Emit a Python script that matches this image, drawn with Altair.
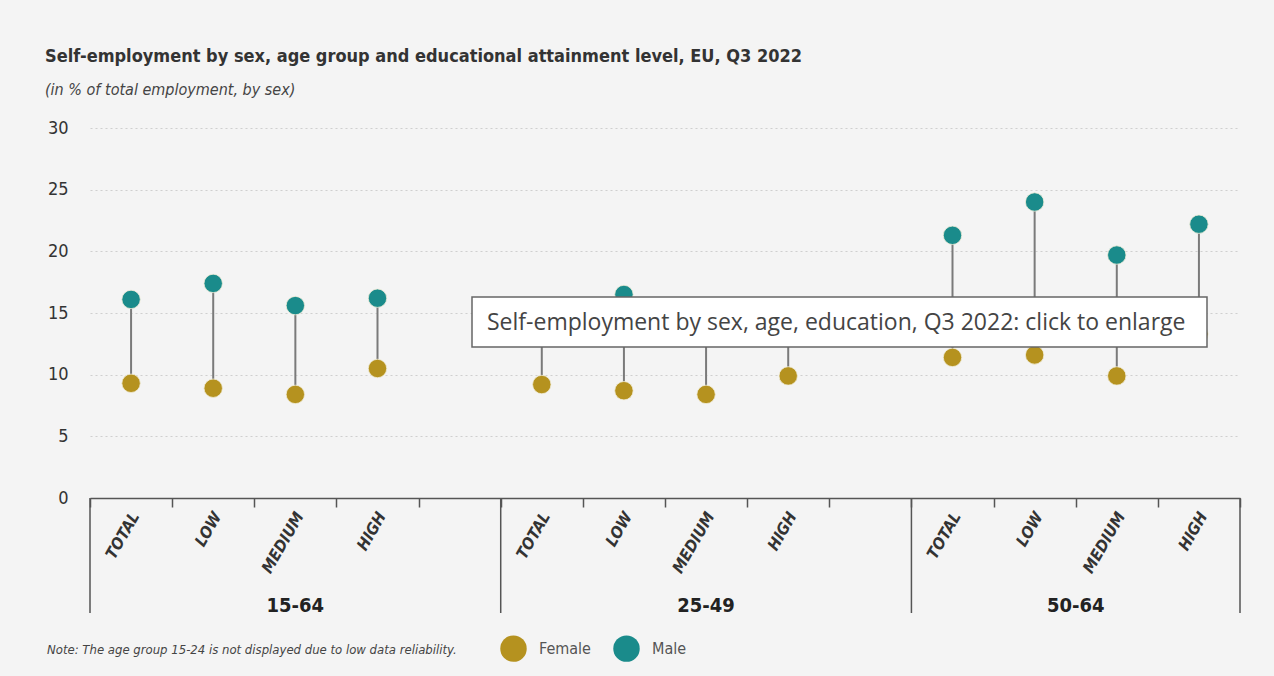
import altair as alt
import pandas as pd

# ---- data ----
age_groups = ["15-64", "25-49", "50-64"]
levels = ["TOTAL", "LOW", "MEDIUM", "HIGH"]
female = [9.3, 8.9, 8.4, 10.5, 9.2, 8.7, 8.4, 9.9, 11.4, 11.6, 9.9, 13.3]
male = [16.1, 17.4, 15.6, 16.2, 15.0, 16.5, 14.5, 14.8, 21.3, 24.0, 19.7, 22.2]
y_ticks = [0, 5, 10, 15, 20, 25, 30]

title = "Self-employment by sex, age group and educational attainment level, EU, Q3 2022"
subtitle = "(in % of total employment, by sex)"
note = "Note: The age group 15-24 is not displayed due to low data reliability."
overlay = "Self-employment by sex, age, education, Q3 2022: click to enlarge"

# band slots (groups 15-64 and 25-49 carry an empty slot at the end)
slots = []
for g in age_groups:
    for lv in levels:
        slots.append(f"{g}|{lv}")
    if g != "50-64":
        slots.append(f"{g}|")

keys = [f"{g}|{lv}" for g in age_groups for lv in levels]
wide = pd.DataFrame({"slot": keys, "female": female, "male": male})
long = pd.DataFrame({
    "slot": keys * 2,
    "value": female + male,
    "sex": ["Female"] * len(keys) + ["Male"] * len(keys),
})

W, H = 1150, 370
FONT = "'DejaVu Sans Condensed', 'Liberation Sans Narrow', 'Roboto Condensed', Roboto, sans-serif"
GOLD = "#B5921F"
TEAL = "#1A8B8B"
DARK = "#555555"

xscale = alt.Scale(domain=slots, paddingInner=0, paddingOuter=0)
yscale = alt.Scale(domain=[0, 30], nice=False)

x_axis = alt.Axis(
    title=None,
    labelExpr="split(datum.value, '|')[1]",
    labelAngle=300,
    labelFont=FONT,
    labelFontStyle="italic",
    labelFontWeight="bold",
    labelFontSize=16,
    labelColor="#333333",
    labelPadding=6,
    labelOffset=4,
    tickBand="extent",
    tickSize=9,
    tickColor=DARK,
    tickWidth=1.5,
    domainColor=DARK,
    domainWidth=1.5,
    grid=False,
)
y_axis = alt.Axis(
    title=None,
    values=y_ticks,
    grid=True,
    gridDash=[2, 3],
    gridColor="#cfcfcf",
    gridWidth=1,
    domain=False,
    ticks=False,
    labelFont=FONT,
    labelFontSize=18,
    labelColor="#333333",
    labelPadding=22,
)

X = alt.X("slot:N", scale=xscale, axis=x_axis)

stems = alt.Chart(wide).mark_rule(color="#7a7a7a", strokeWidth=2).encode(
    x=X,
    y=alt.Y("female:Q", scale=yscale, axis=y_axis),
    y2="male:Q",
)

dots = alt.Chart(long).mark_circle(size=340, opacity=1, stroke="#f0ecd8", strokeWidth=0.8).encode(
    x=X,
    y=alt.Y("value:Q", scale=yscale, axis=y_axis),
    color=alt.Color(
        "sex:N",
        scale=alt.Scale(domain=["Female", "Male"], range=[GOLD, TEAL]),
        legend=alt.Legend(
            title=None,
            orient="none",
            legendX=410,
            legendY=507,
            direction="horizontal",
            symbolType="circle",
            symbolSize=700,
            symbolStrokeWidth=0,
            symbolOpacity=1,
            labelFont=FONT,
            labelFontSize=16,
            labelColor="#555555",
            labelOffset=12,
            columnPadding=22,
        ),
    ),
)

sep_df = pd.DataFrame({"slot": [f"{g}|TOTAL" for g in age_groups]})
seps = alt.Chart(sep_df).mark_rule(color=DARK, strokeWidth=1.5).encode(
    x=alt.X("slot:N", scale=xscale, axis=x_axis, bandPosition=0),
    y=alt.value(H),
    y2=alt.value(H + 115),
)
end_df = pd.DataFrame({"slot": [slots[-1]]})
sep_end = alt.Chart(end_df).mark_rule(color=DARK, strokeWidth=1.5).encode(
    x=alt.X("slot:N", scale=xscale, axis=x_axis, bandPosition=1),
    y=alt.value(H),
    y2=alt.value(H + 115),
)

grp5 = pd.DataFrame({"slot": ["15-64|MEDIUM", "25-49|MEDIUM"], "label": ["15-64", "25-49"]})
grp4 = pd.DataFrame({"slot": ["50-64|MEDIUM"], "label": ["50-64"]})
gtext_kw = dict(font=FONT, fontSize=20, fontWeight="bold", color="#222222", baseline="middle", align="center")
glabels5 = alt.Chart(grp5).mark_text(**gtext_kw).encode(
    x=alt.X("slot:N", scale=xscale, axis=x_axis, bandPosition=0.5),
    y=alt.value(H + 108),
    text="label:N",
)
glabels4 = alt.Chart(grp4).mark_text(**gtext_kw).encode(
    x=alt.X("slot:N", scale=xscale, axis=x_axis, bandPosition=0),
    y=alt.value(H + 108),
    text="label:N",
)

note_df = pd.DataFrame({"t": [note]})
note_mark = alt.Chart(note_df).mark_text(
    font=FONT, fontSize=13, fontStyle="italic", color="#444444", align="left", baseline="middle"
).encode(x=alt.value(-43), y=alt.value(522), text="t:N")

ov_df = pd.DataFrame({"t": [overlay]})
ov_box = alt.Chart(ov_df).mark_rect(fill="#ffffff", stroke="#666666", strokeWidth=1.5).encode(
    x=alt.value(382), x2=alt.value(1117), y=alt.value(169), y2=alt.value(219)
)
ov_text = alt.Chart(ov_df).mark_text(
    font="Open Sans", fontSize=23, color="#444444", align="left", baseline="middle"
).encode(x=alt.value(397), y=alt.value(195), text="t:N")

chart = alt.layer(
    stems, dots, seps, sep_end, glabels5, glabels4, note_mark, ov_box, ov_text
).properties(
    width=W,
    height=H,
    autosize=alt.AutoSizeParams(type="none"),
    padding={"left": 90, "top": 128, "right": 34, "bottom": 178},
    background="#f4f4f4",
    title=alt.TitleParams(
        text=title,
        subtitle=subtitle,
        anchor="start",
        frame="group",
        dx=-45,
        offset=21,
        font=FONT,
        fontSize=18,
        fontWeight="bold",
        color="#333333",
        subtitleFont=FONT,
        subtitleFontSize=16,
        subtitleFontStyle="italic",
        subtitleColor="#444444",
        subtitlePadding=16,
    ),
).configure_view(stroke=None)

chart.save("out.html", embed_options={"renderer": "svg", "actions": False})
